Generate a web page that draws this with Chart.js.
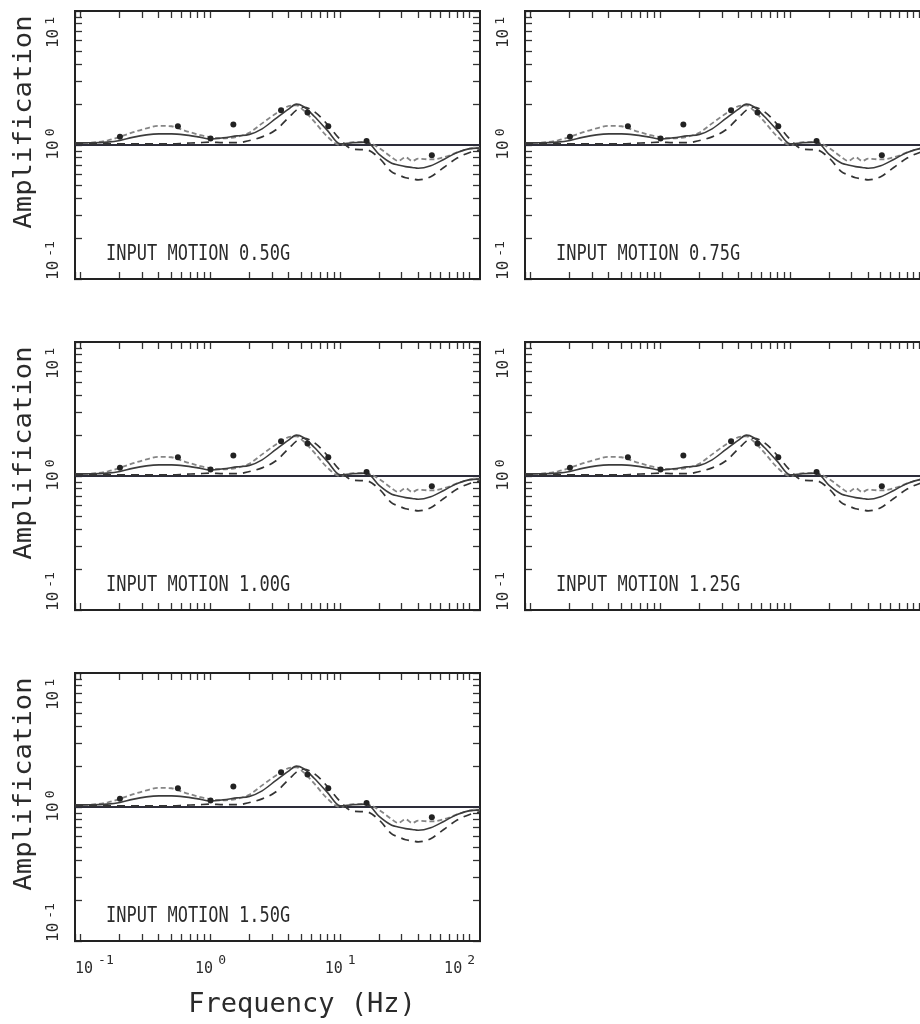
<!DOCTYPE html>
<html>
<head>
<meta charset="utf-8">
<script src="https://cdn.jsdelivr.net/npm/chart.js@4.4.1/dist/chart.umd.min.js"></script>
<style>
  html, body { margin: 0; padding: 0; background: #fff; }
  body { width: 920px; height: 1024px; position: relative; overflow: hidden; }
  canvas { position: absolute; }
</style>
</head>
<body>
<canvas id="p050" width="490" height="300" style="left:0px;top:0px"></canvas>
<canvas id="p075" width="490" height="300" style="left:450px;top:0px"></canvas>
<canvas id="p100" width="490" height="300" style="left:0px;top:331px"></canvas>
<canvas id="p125" width="490" height="300" style="left:450px;top:331px"></canvas>
<canvas id="p150" width="490" height="362" style="left:0px;top:662px"></canvas>
<script>
// frequency grid the curves were read at (Hz)
const freqHz = [0.09, 0.12, 0.16, 0.2, 0.25, 0.32, 0.4, 0.5, 0.63, 0.8,
                1.0, 1.25, 1.6, 2.0, 2.5, 3.2, 4.0, 4.6, 5.2, 6.3,
                8.0, 10, 12.5, 16, 20, 25, 28, 32, 36, 40,
                50, 63, 80, 100, 120];

// solid curve
const solidAmp = [1.04, 1.04, 1.05, 1.08, 1.14, 1.19, 1.21, 1.21, 1.19, 1.15,
                  1.11, 1.13, 1.17, 1.20, 1.32, 1.58, 1.85, 2.02, 1.94, 1.64,
                  1.28, 1.02, 1.04, 1.05, 0.85, 0.73, 0.71, 0.69, 0.68, 0.67,
                  0.70, 0.78, 0.88, 0.94, 0.95];

// grey short-dash curve (upper at low freq, left of the peak, wavy in the trough)
const greyDashAmp = [1.03, 1.04, 1.08, 1.15, 1.24, 1.33, 1.39, 1.38, 1.28, 1.20,
                     1.14, 1.12, 1.15, 1.24, 1.45, 1.72, 1.95, 1.98, 1.82, 1.50,
                     1.15, 1.00, 1.05, 1.05, 0.95, 0.81, 0.76, 0.81, 0.76, 0.79,
                     0.78, 0.81, 0.88, 0.94, 0.95];

// dark long-dash curve (lowest in the trough, right of the peak)
const longDashAmp = [1.02, 1.02, 1.02, 1.02, 1.02, 1.02, 1.02, 1.02, 1.03, 1.04,
                     1.05, 1.04, 1.04, 1.08, 1.15, 1.30, 1.60, 1.82, 1.92, 1.78,
                     1.42, 1.10, 0.93, 0.92, 0.80, 0.63, 0.60, 0.57, 0.56, 0.55,
                     0.58, 0.68, 0.80, 0.88, 0.92];

// measured points
const dotFreq = [0.2, 0.56, 1.0, 1.5, 3.5, 5.6, 8.1, 16, 51];
const dotAmp  = [1.15, 1.38, 1.12, 1.42, 1.82, 1.75, 1.38, 1.07, 0.84];

// unit amplification line
const refFreq = [0.09, 120];
const refAmp  = [1, 1];

const panelIds = ['p050', 'p075', 'p100', 'p125', 'p150'];
const panelCaptions = ['INPUT MOTION 0.50G', 'INPUT MOTION 0.75G', 'INPUT MOTION 1.00G',
                       'INPUT MOTION 1.25G', 'INPUT MOTION 1.50G'];

const xTickExponents = [-1, 0, 1, 2];
const yTickExponents = [-1, 0, 1];
const tickMultiples = [1, 2, 3, 4, 5, 6, 7, 8, 9];

const X_MIN = 0.09, X_MAX = 120, Y_MIN = 0.1, Y_MAX = 10;
const MONO = '"DejaVu Sans Mono", monospace';
const INK = '#2b2b2b';

function logTickValues(lo, hi) {
    const vals = [];
    for (let e = -3; e <= 3; e++) {
        tickMultiples.forEach(m => {
            const v = +(m * Math.pow(10, e)).toPrecision(6);
            if (v >= lo && v <= hi) vals.push(v);
        });
    }
    return vals;
}
const xTickVals = logTickValues(X_MIN, X_MAX);
const yTickVals = logTickValues(Y_MIN, Y_MAX);

function toPoints(xs, ys) {
    return xs.map((x, i) => ({ x: x, y: ys[i] }));
}

function frameAxis(axis, position, min, max, vals, size) {
    return {
        type: 'logarithmic',
        axis: axis,
        position: position,
        min: min,
        max: max,
        afterBuildTicks: (scale) => { scale.ticks = vals.map(v => ({ value: v })); },
        afterFit: (scale) => {
            if (axis === 'x') scale.height = size; else scale.width = size;
        },
        ticks: { display: false },
        grid: {
            drawOnChartArea: false,
            drawTicks: true,
            tickLength: -7,
            tickColor: '#333',
            tickWidth: 1.3
        },
        border: { display: true, color: '#222', width: 2 }
    };
}

// draws caption, axis titles and the 10^n tick labels
const panelText = {
    id: 'panelText',
    afterDraw(chart, args, opts) {
        const ctx = chart.ctx;
        const area = chart.chartArea;
        const xs = chart.scales.x;
        const ys = chart.scales.y;
        ctx.save();
        ctx.fillStyle = INK;
        ctx.textBaseline = 'alphabetic';

        // caption inside the frame
        ctx.save();
        ctx.translate(area.left + 31, area.bottom - 19);
        ctx.scale(1, 1.2);
        ctx.font = '17px ' + MONO;
        ctx.fillText(opts.caption, 0, 0);
        ctx.restore();

        // y tick labels, rotated
        ctx.font = '16px ' + MONO;
        const w10 = ctx.measureText('10').width;
        yTickExponents.forEach(e => {
            const py = ys.getPixelForValue(Math.pow(10, e));
            const expText = String(e);
            ctx.font = '13px ' + MONO;
            const wExp = ctx.measureText(expText).width;
            const total = w10 + 4 + wExp;
            let start = py + 5 + w10 / 2;
            if (start > area.bottom + 1) start = area.bottom + 1;
            if (start - total < area.top + 6) start = area.top + 6 + total;
            ctx.save();
            ctx.translate(area.left - 17, start);
            ctx.rotate(-Math.PI / 2);
            ctx.font = '16px ' + MONO;
            ctx.fillText('10', 0, 0);
            ctx.font = '13px ' + MONO;
            ctx.fillText(expText, w10 + 4, -4);
            ctx.restore();
        });

        if (opts.yTitle) {
            ctx.save();
            ctx.translate(31, (area.top + area.bottom) / 2 - 23);
            ctx.rotate(-Math.PI / 2);
            ctx.scale(1.09, 1);
            ctx.font = '25px ' + MONO;
            ctx.textAlign = 'center';
            ctx.fillText(opts.yTitle, 0, 0);
            ctx.restore();
        }

        if (opts.xTitle) {
            ctx.font = '15px ' + MONO;
            const xw10 = ctx.measureText('10').width;
            xTickExponents.forEach(e => {
                const px = xs.getPixelForValue(Math.pow(10, e));
                const expText = String(e);
                ctx.font = '13px ' + MONO;
                const wExp = ctx.measureText(expText).width;
                const total = xw10 + 5 + wExp;
                let left = px - total / 2;
                if (left < area.left) left = area.left;
                if (left + total > area.right - 5) left = area.right - 5 - total;
                ctx.font = '15px ' + MONO;
                ctx.fillText('10', left, area.bottom + 32);
                ctx.font = '13px ' + MONO;
                ctx.fillText(expText, left + xw10 + 5, area.bottom + 23);
            });
            ctx.font = '27px ' + MONO;
            ctx.textAlign = 'center';
            ctx.fillText(opts.xTitle, area.left + 227, area.bottom + 71);
        }
        ctx.restore();
    }
};

function makePanel(idx) {
    const canvas = document.getElementById(panelIds[idx]);
    const isLeft = idx % 2 === 0;
    const isBottom = idx === 4;
    return new Chart(canvas, {
        type: 'scatter',
        data: {
            datasets: [
                {
                    label: 'measured',
                    data: toPoints(dotFreq, dotAmp),
                    pointRadius: 3,
                    pointBackgroundColor: '#222',
                    pointBorderColor: '#222',
                    pointBorderWidth: 0,
                    showLine: false
                },
                {
                    label: 'solid',
                    data: toPoints(freqHz, solidAmp),
                    showLine: true,
                    pointRadius: 0,
                    borderColor: '#3c3c3c',
                    borderWidth: 1.6,
                    cubicInterpolationMode: 'monotone'
                },
                {
                    label: 'long dash',
                    data: toPoints(freqHz, longDashAmp),
                    showLine: true,
                    pointRadius: 0,
                    borderColor: '#333',
                    borderWidth: 1.7,
                    borderDash: [8, 6],
                    cubicInterpolationMode: 'monotone'
                },
                {
                    label: 'short dash',
                    data: toPoints(freqHz, greyDashAmp),
                    showLine: true,
                    pointRadius: 0,
                    borderColor: '#858585',
                    borderWidth: 1.8,
                    borderDash: [5, 3],
                    cubicInterpolationMode: 'monotone'
                },
                {
                    label: 'unity',
                    data: toPoints(refFreq, refAmp),
                    showLine: true,
                    pointRadius: 0,
                    borderColor: '#2d2d3a',
                    borderWidth: 1.8
                }
            ]
        },
        options: {
            responsive: false,
            animation: false,
            devicePixelRatio: 1,
            layout: { padding: 0, autoPadding: false },
            scales: {
                x: frameAxis('x', 'bottom', X_MIN, X_MAX, xTickVals, isBottom ? 83 : 21),
                x2: frameAxis('x', 'top', X_MIN, X_MAX, xTickVals, 11),
                y: frameAxis('y', 'left', Y_MIN, Y_MAX, yTickVals, 75),
                y2: frameAxis('y', 'right', Y_MIN, Y_MAX, yTickVals, 10)
            },
            plugins: {
                legend: { display: false },
                tooltip: { enabled: false },
                panelText: {
                    caption: panelCaptions[idx],
                    yTitle: isLeft ? 'Amplification' : null,
                    xTitle: isBottom ? 'Frequency (Hz)' : null
                }
            }
        },
        plugins: [panelText]
    });
}

panelIds.forEach((id, i) => makePanel(i));
</script>
</body>
</html>
